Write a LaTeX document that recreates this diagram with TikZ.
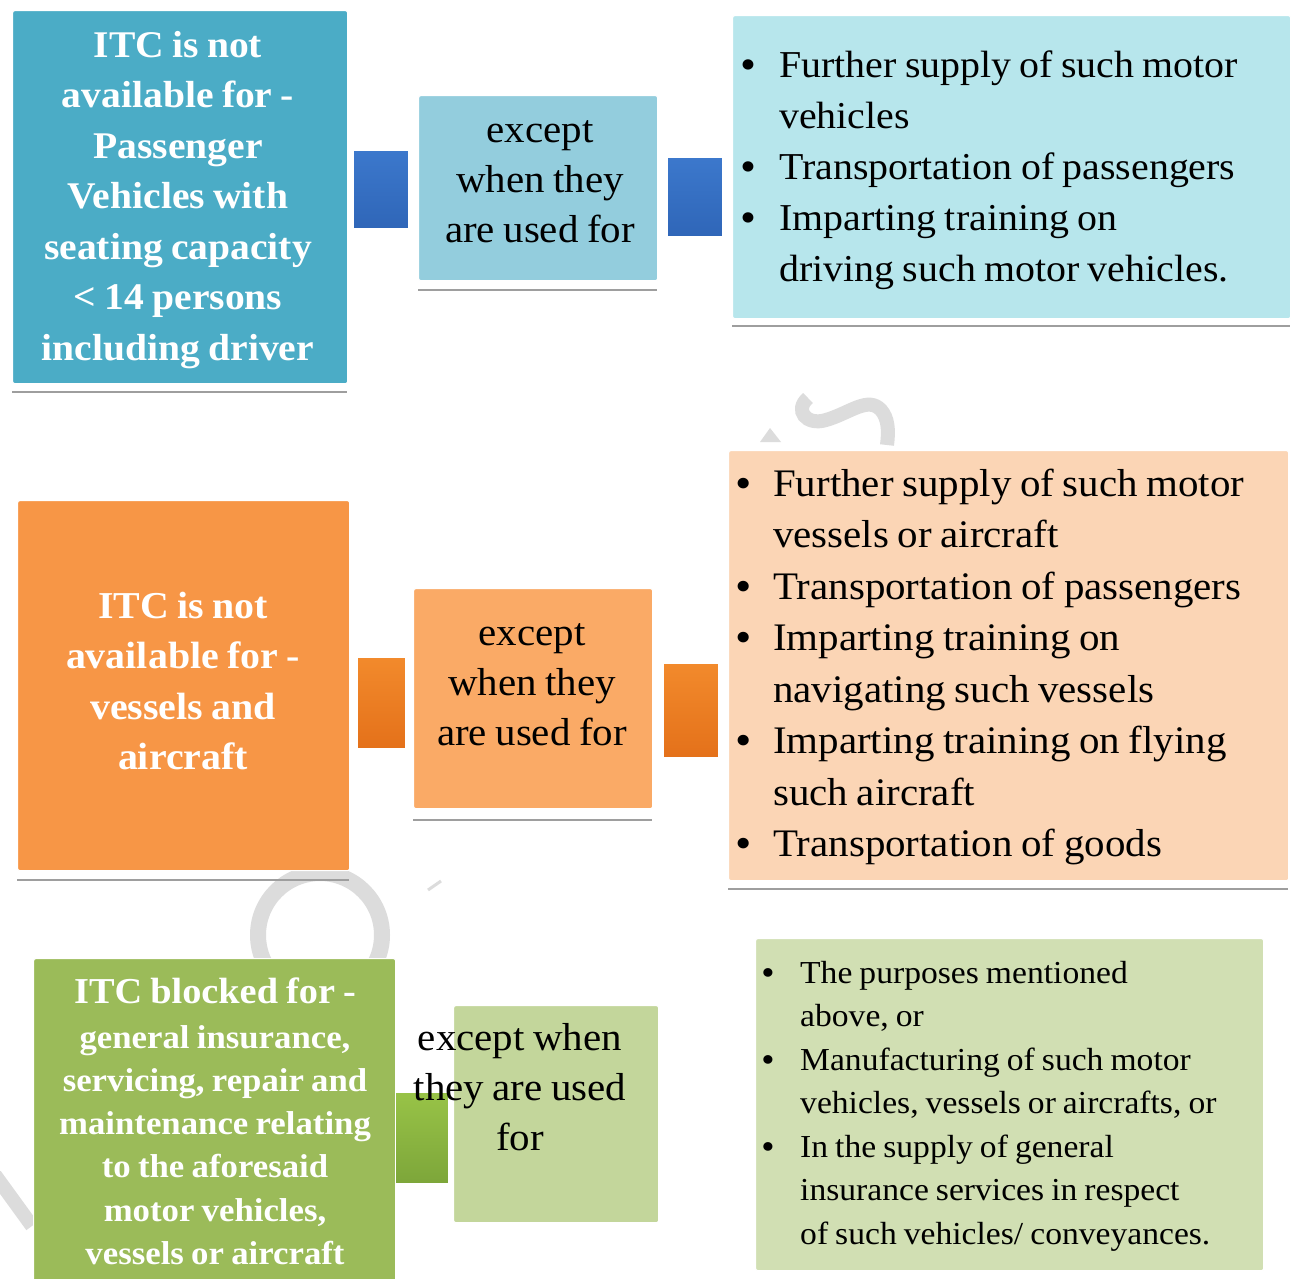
\documentclass[tikz,border=0pt]{standalone}
\usepackage{fontspec}
\setmainfont{Liberation Serif}[FakeStretch=1.05]
\definecolor{blueA}{HTML}{4BACC6}
\definecolor{blueB}{HTML}{93CDDD}
\definecolor{blueC}{HTML}{B7E6EC}
\definecolor{blueConnT}{HTML}{3C78CC}
\definecolor{blueConnB}{HTML}{2F66B8}
\definecolor{orA}{HTML}{F79646}
\definecolor{orB}{HTML}{FAAA66}
\definecolor{orC}{HTML}{FBD5B5}
\definecolor{orConnT}{HTML}{F28A2C}
\definecolor{orConnB}{HTML}{E4711A}
\definecolor{grA}{HTML}{9BBB59}
\definecolor{grB}{HTML}{C3D69B}
\definecolor{grC}{HTML}{D1DFB3}
\definecolor{grConnT}{HTML}{98C347}
\definecolor{grConnB}{HTML}{7DA63A}
\definecolor{wmgray}{HTML}{DCDCDC}
\newcommand\blt[1]{\makebox[#1][l]{\textbf{\textbullet}}}
\newcommand\ind[1]{\hspace*{#1}}
\newcommand\fsz[2]{\fontsize{#1}{#2}\selectfont}
\begin{document}
\begin{tikzpicture}[x=1pt,y=-1pt,
  box/.style={draw=white, line width=1.2pt, rounded corners=2pt, anchor=north west, inner sep=0pt},
  conn/.style={anchor=north west, inner sep=0pt, draw=white, line width=0.6pt},
  shadowline/.style={draw=black!38, line width=2.5pt},
  wm/.style={draw=wmgray, line cap=butt},
  tight/.style={execute at begin node={\spaceskip=0.22em\relax}},
  lbl/.style={tight, inner sep=0pt, text width=440pt, align=center, anchor=base, text=white},
  mid/.style={tight, inner sep=0pt, text width=440pt, align=center, anchor=base, text=black, font=\fsz{39}{50}},
  lst/.style={tight, inner sep=0pt, text width=600pt, align=left, anchor=base west, text=black}
]
\useasboundingbox (0,0) rectangle (1293,1278);
\fill[white] (0,0) rectangle (1293,1278);
% watermark fragments
\draw[wm, line width=16pt] (320,935) circle[radius=62];
\draw[wm, line width=3pt] (428,890) -- (441,881);
\draw[wm, line width=14pt] (808,398) .. controls (794,410) and (806,426) .. (826,420) .. controls (850,413) and (868,396) .. (881,410) .. controls (888,418) and (889,430) .. (887,445);
\fill[wmgray] (760,442) -- (770,428) -- (781,442) -- cycle;
\draw[wm, line width=14pt] (-5,1175) -- (32,1226);

% ---------- row 1 ----------
\draw[shadowline] (12,392) -- (347,392);
\draw[shadowline] (418,290) -- (657,290);
\draw[shadowline] (732,326) -- (1290,326);
\node[box, fill=blueA, minimum width=335pt, minimum height=373pt] (b1) at (12,10) {};
\node[conn, top color=blueConnT, bottom color=blueConnB, minimum width=55pt, minimum height=78pt] (c1a) at (353,150) {};
\node[box, fill=blueB, minimum width=239pt, minimum height=185pt] (m1) at (418,95) {};
\node[conn, top color=blueConnT, bottom color=blueConnB, minimum width=55pt, minimum height=79pt] (c1b) at (667,157) {};
\node[box, fill=blueC, minimum width=558pt, minimum height=303pt] (r1) at (732,15) {};

\node[lbl, font=\bfseries\fsz{37.7}{50.5}] (t1) at (178,57)
  {ITC is not\\available for -\\Passenger\\Vehicles with\\seating capacity\\< 14 persons\\including driver};
\node[mid] (tm1) at (540,142) {except\\when they\\are used for};
\node[lst, font=\fsz{38}{51}] (tr1) at (741,77)
  {\blt{38pt}Further supply of such motor\\\ind{38pt}vehicles\\\blt{38pt}Transportation of passengers\\\blt{38pt}Imparting training on\\\ind{38pt}driving such motor vehicles.};

% ---------- row 2 ----------
\draw[shadowline] (17,880) -- (349,880);
\draw[shadowline] (413,820) -- (652,820);
\draw[shadowline] (728,889) -- (1288,889);
\node[box, fill=orA, minimum width=332pt, minimum height=370pt] (b2) at (17,500) {};
\node[conn, top color=orConnT, bottom color=orConnB, minimum width=48pt, minimum height=91pt] (c2a) at (357,657) {};
\node[box, fill=orB, minimum width=239pt, minimum height=220pt] (m2) at (413,588) {};
\node[conn, top color=orConnT, bottom color=orConnB, minimum width=55pt, minimum height=94pt] (c2b) at (663,663) {};
\node[box, fill=orC, minimum width=560pt, minimum height=430pt] (r2) at (728,450) {};

\node[lbl, font=\bfseries\fsz{38}{50.5}] (t2) at (183,618)
  {ITC is not\\available for -\\vessels and\\aircraft};
\node[mid] (tm2) at (532,645) {except\\when they\\are used for};
\node[lst, font=\fsz{39}{51.5}] (tr2) at (736,496)
  {\blt{37pt}Further supply of such motor\\\ind{37pt}vessels or aircraft\\\blt{37pt}Transportation of passengers\\\blt{37pt}Imparting training on\\\ind{37pt}navigating such vessels\\\blt{37pt}Imparting training on flying\\\ind{37pt}such aircraft\\\blt{37pt}Transportation of goods};

% ---------- row 3 ----------
\node[box, fill=grA, minimum width=362pt, minimum height=330pt] (b3) at (33,958) {};
\node[conn, top color=grConnT, bottom color=grConnB, minimum width=53pt, minimum height=91pt] (c3a) at (395,1092) {};
\node[box, fill=grB, minimum width=205pt, minimum height=217pt] (m3) at (453,1005) {};
\node[box, fill=grC, minimum width=508pt, minimum height=332pt] (r3) at (755,938) {};

\node[lbl, font=\bfseries\fsz{33.1}{43.2}] (t3) at (215,1003)
  {{\fsz{36.5}{45}\spaceskip=0.22em\relax ITC blocked for -}\\[2pt]general insurance,\\servicing, repair and\\maintenance relating\\to the aforesaid\\motor vehicles,\\vessels or aircraft};
\node[mid] (tm3) at (520,1050) {except when\\they are used\\for};
\node[lst, font=\fsz{32}{43.5}] (tr3) at (762,983)
  {\blt{38pt}The purposes mentioned\\\ind{38pt}above, or\\\blt{38pt}Manufacturing of such motor\\\ind{38pt}vehicles, vessels or aircrafts, or\\\blt{38pt}In the supply of general\\\ind{38pt}insurance services in respect\\\ind{38pt}of such vehicles/ conveyances.};
\end{tikzpicture}
\end{document}
